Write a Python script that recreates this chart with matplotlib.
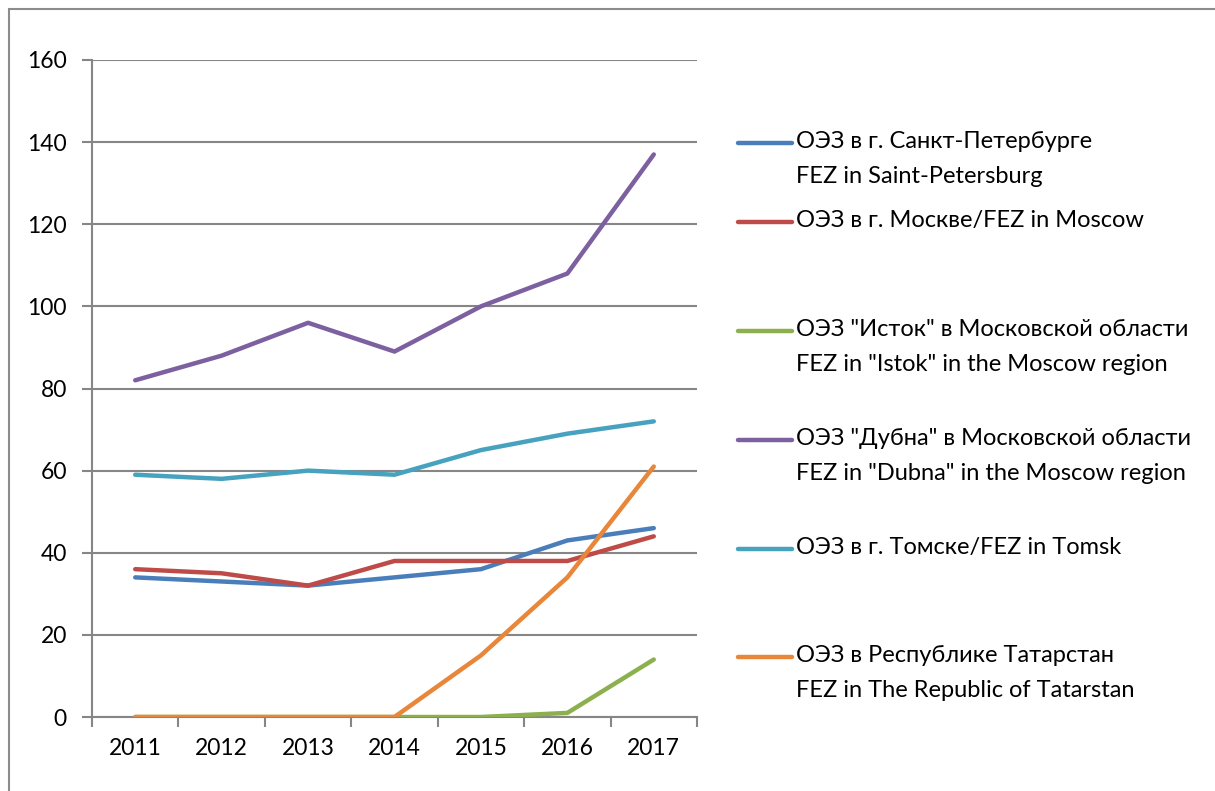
import matplotlib
matplotlib.use("Agg")
import matplotlib.pyplot as plt
from matplotlib.lines import Line2D
from matplotlib.patches import Rectangle
import numpy as np

plt.rcParams['font.family'] = ['Lato', 'DejaVu Sans']

years = ['2011', '2012', '2013', '2014', '2015', '2016', '2017']

spb = [34, 33, 32, 34, 36, 43, 46]
moscow = [36, 35, 32, 38, 38, 38, 44]
istok = [0, 0, 0, 0, 0, 1, 14]
dubna = [82, 88, 96, 89, 100, 108, 137]
tomsk = [59, 58, 60, 59, 65, 69, 72]
tatarstan = [0, 0, 0, 0, 15, 34, 61]

labels = [
    'ОЭЗ в г. Санкт-Петербурге\nFEZ in Saint-Petersburg',
    'ОЭЗ в г. Москве/FEZ in Moscow',
    'ОЭЗ "Исток" в Московской области\nFEZ in "Istok" in the Moscow region',
    'ОЭЗ "Дубна" в Московской области\nFEZ in "Dubna" in the Moscow region',
    'ОЭЗ в г. Томске/FEZ in Tomsk',
    'ОЭЗ в Республике Татарстан\nFEZ in The Republic of Tatarstan',
]
series = [spb, moscow, istok, dubna, tomsk, tatarstan]
colors = ['#4A7EBB', '#BE4B48', '#8DB04E', '#7D60A0', '#46A2BE', '#E8863A']

W, H = 1215, 791
fig = plt.figure(figsize=(W / 100, H / 100), dpi=100)
ax = fig.add_axes([92 / W, 1 - 717 / H, (697 - 92) / W, (717 - 60) / H])

x = np.arange(len(years))
for vals, c in zip(series, colors):
    ax.plot(x, vals, color=c, lw=3.2, solid_capstyle='round', solid_joinstyle='round', zorder=3)

grid_c = '#868686'
ax.set_xlim(-0.5, len(years) - 0.5)
ax.set_ylim(0, 160)
ax.set_yticks(np.arange(0, 161, 20))
ax.yaxis.grid(True, color=grid_c, lw=1.5)
ax.set_axisbelow(True)
for s in ['top', 'right']:
    ax.spines[s].set_visible(False)
for s in ['left', 'bottom']:
    ax.spines[s].set_color(grid_c)
    ax.spines[s].set_linewidth(1.5)

ax.set_xticks(x)
ax.set_xticklabels(years)
ax.set_xticks(np.arange(-0.5, len(years)), minor=True)
ax.tick_params(axis='x', which='major', length=0, pad=15, labelsize=16.5)
ax.tick_params(axis='x', which='minor', length=7, width=1.5, color=grid_c, direction='out')
ax.tick_params(axis='y', length=7, width=1.5, color=grid_c, pad=11, labelsize=16.5)

# legend drawn by hand to follow the uneven spacing
leg_y = [143, 222, 331, 440, 549, 657]
for yy, lab, c in zip(leg_y, labels, colors):
    fy = 1 - yy / H
    fig.add_artist(Line2D([738 / W, 792 / W], [fy, fy], color=c, lw=3.2,
                          solid_capstyle='round', transform=fig.transFigure))
    fig.text(796 / W, fy + 12 / H, lab, fontsize=17, va='top', ha='left',
             linespacing=1.8)

fig.add_artist(Rectangle((9 / W, -0.1), 1.2, 1 - 9 / H + 0.1, fill=False,
                         edgecolor='#8C8C8C', lw=1.5, transform=fig.transFigure))

fig.savefig('out.png', dpi=100, facecolor='white')
